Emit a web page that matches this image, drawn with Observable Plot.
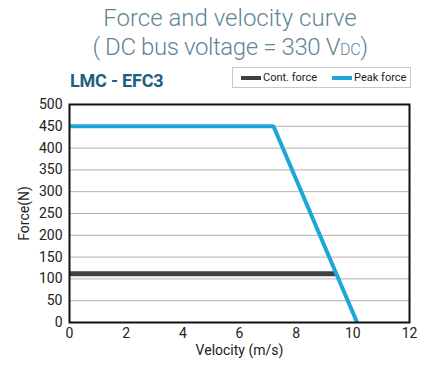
<!DOCTYPE html>
<html><head><meta charset="utf-8">
<script src="https://cdn.jsdelivr.net/npm/d3@7"></script>
<script src="https://cdn.jsdelivr.net/npm/@observablehq/plot@0.6"></script>
<style>
body{margin:0;background:#fff;font-family:Roboto,"DejaVu Sans",sans-serif;}
#wrap{position:relative;width:435px;height:368px;overflow:hidden;}
.t{position:absolute;left:0;width:460px;text-align:center;color:#5f8595;font-weight:300;font-size:24px;line-height:28px;}
#sub{position:absolute;left:70px;top:70px;font-weight:700;font-size:18px;color:#1d5f80;letter-spacing:-0.2px;}
#leg{position:absolute;left:232px;top:67px;width:177px;height:19px;border:1px solid #c8c8c8;font-size:11px;color:#222;display:flex;align-items:center;}
.sw{display:inline-block;width:20px;height:4px;margin-right:2px;}
#chart{position:absolute;left:0;top:95px;}
</style></head>
<body><div id="wrap">
<div class="t" style="top:4px">Force and velocity curve</div>
<div class="t" style="top:33px;letter-spacing:-0.4px">( DC bus voltage = 330 V<span style="font-size:16px">DC</span>)</div>
<div id="sub">LMC - EFC3</div>
<div id="leg"></div>
<div id="chart"></div>
</div>
<script>
const seriesNames = ["Cont. force", "Peak force"];
const seriesColors = ["#404040", "#1fa6d9"];
const contVelocity = [0, 9.42];
const contForce = [112, 112];
const peakVelocity = [0, 7.2, 10.15];
const peakForce = [450, 450, 0];
const xTicks = [0, 2, 4, 6, 8, 10, 12];
const yTicks = [0, 50, 100, 150, 200, 250, 300, 350, 400, 450, 500];

const cont = contVelocity.map((v, i) => ({v, f: contForce[i]}));
const peak = peakVelocity.map((v, i) => ({v, f: peakForce[i]}));

const leg = document.getElementById("leg");
seriesNames.forEach((n, i) => {
  const s = document.createElement("span");
  s.style.marginLeft = i === 0 ? "8px" : "15px";
  s.style.display = "inline-flex"; s.style.alignItems = "center";
  s.innerHTML = `<span class="sw" style="background:${seriesColors[i]}"></span>${n}`;
  leg.appendChild(s);
});

const chart = Plot.plot({
  width: 435, height: 273,
  marginTop: 9, marginLeft: 69, marginRight: 26, marginBottom: 46,
  style: {fontFamily: "Roboto, sans-serif", fontSize: "14px", color: "#222"},
  x: {domain: [0, 12], ticks: xTicks},
  y: {domain: [0, 500], ticks: yTicks},
  marks: [
    Plot.gridY(yTicks.filter(d => d > 0 && d < 500), {stroke: "#b0b0b0", strokeOpacity: 1, strokeWidth: 1}),
    Plot.axisX({ticks: xTicks, tickSize: 0, tickPadding: 6, label: "Velocity (m/s)", labelAnchor: "center", labelArrow: "none", labelOffset: 32, fontSize: 14}),
    Plot.axisY({ticks: yTicks, tickSize: 0, tickPadding: 7, label: "Force(N)", labelAnchor: "center", labelArrow: "none", labelOffset: 50, fontSize: 14}),
    Plot.line(cont, {x: "v", y: "f", stroke: seriesColors[0], strokeWidth: 5, strokeLinecap: "butt"}),
    Plot.line(peak, {x: "v", y: "f", stroke: seriesColors[1], strokeWidth: 4, strokeLinecap: "butt", strokeLinejoin: "miter"}),
    Plot.frame({stroke: "#111", strokeWidth: 2})
  ]
});
document.getElementById("chart").appendChild(chart);
</script>
</body></html>
